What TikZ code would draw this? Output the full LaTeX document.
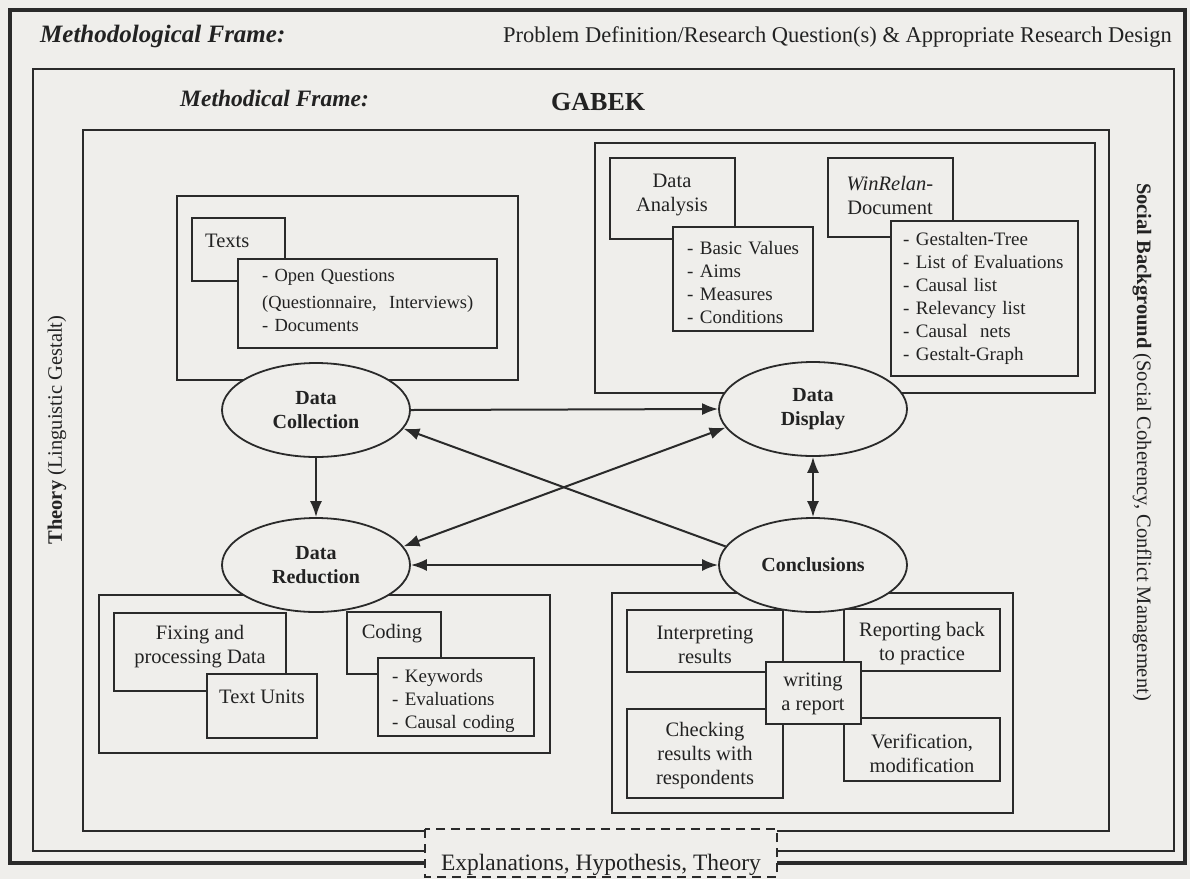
\documentclass[tikz,border=0pt]{standalone}
\usepackage{fontspec}
\setmainfont{Liberation Serif}
\usetikzlibrary{arrows.meta,shapes.geometric}

\definecolor{paper}{RGB}{239,238,235}
\definecolor{ink}{RGB}{42,42,42}
\definecolor{textc}{RGB}{34,34,34}

\newcommand{\listfont}{\fontsize{19}{23}\selectfont}
\newcommand{\titlefont}{\fontsize{20.5}{24}\selectfont}
\newcommand{\stagefont}{\fontsize{20}{24.5}\selectfont\bfseries}
\newcommand{\headfont}{\fontsize{22.5}{27}\selectfont}

\begin{document}
\begin{tikzpicture}[x=1pt,y=-1pt,line join=miter,
  frameline/.style={draw=ink},
  panel/.style={draw=ink, line width=1.7pt, fill=paper},
  stage/.style={ellipse, draw=ink, line width=1.8pt, fill=paper,
    minimum width=188pt, minimum height=94pt, inner sep=0pt,
    align=center, font=\stagefont, text=textc},
  boxtext/.style={align=center, inner sep=0pt, font=\titlefont, text=textc},
  itemlist/.style={align=left, inner sep=0pt, font=\listfont, text=textc,
    anchor=west, text width=300pt},
  arr/.style={draw=ink, line width=2pt, -{Latex[length=16pt,width=12pt]}},
  darr/.style={draw=ink, line width=2pt,
    {Latex[length=16pt,width=12pt]}-{Latex[length=16pt,width=12pt]}},
]
\useasboundingbox (0,0) rectangle (1190,879);
\fill[paper] (0,0) rectangle (1190,879);

% nested frames
\draw[frameline, line width=3.2pt] (10,10) rectangle (1185,863);
\draw[frameline, line width=2.6pt] (33,69) rectangle (1174,851);
\draw[frameline, line width=2.2pt] (83,130) rectangle (1109,831);

% frame titles
\node[anchor=base west, inner sep=0pt, text=textc,
  font=\fontsize{25}{30}\selectfont\bfseries\itshape] (methodological) at (40,42) {Methodological Frame:};
\node[anchor=base east, inner sep=0pt, text=textc, font=\headfont] (problem) at (1172,42)
  {Problem Definition/Research Question(s) \& Appropriate Research Design};
\node[anchor=base west, inner sep=0pt, text=textc,
  font=\fontsize{23.5}{28}\selectfont\bfseries\itshape] (methodical) at (180,106) {Methodical Frame:};
\node[anchor=base west, inner sep=0pt, text=textc,
  font=\fontsize{26}{30}\selectfont\bfseries] (gabek) at (551,110) {GABEK};

% side labels
\node[rotate=90, inner sep=0pt, text=textc, font=\fontsize{20.5}{24}\selectfont] (theory) at (57,430)
  {\textbf{Theory} (Linguistic Gestalt)};
\node[rotate=-90, inner sep=0pt, text=textc, font=\fontsize{20.5}{24}\selectfont] (social) at (1142,442)
  {\textbf{Social Background} (Social Coherency, Conflict Management)};

% dashed box sitting on the frame bottoms
\draw[draw=ink, line width=2pt, fill=paper, dash pattern=on 9pt off 6pt] (425,829) rectangle (777,877);
\node[inner sep=0pt, text=textc, font=\fontsize{23.5}{27}\selectfont, anchor=base] (explanations) at (601,870)
  {Explanations, Hypothesis, Theory};

% --- data collection group
\path[panel] (177,196) rectangle (518,380);
\path[panel] (192,218) rectangle (285,281);
\node[boxtext, anchor=west] (texts) at (205,241) {Texts};
\path[panel] (238,259) rectangle (497,348);
\node[itemlist, font=\fontsize{18.5}{23}\selectfont] (sources) at (262,300)
  {- Open Questions\\[4pt](Questionnaire,\ \ Interviews)\\- Documents};

% --- data display group
\path[panel] (595,143) rectangle (1095,393);
\path[panel] (610,158) rectangle (735,239);
\node[boxtext] (analysis) at (672,195) {Data\\Analysis};
\path[panel] (673,227) rectangle (813,331);
\node[itemlist] (aims) at (687,282) {- Basic Values\\- Aims\\- Measures\\- Conditions};
\path[panel] (828,158) rectangle (953,237);
\node[boxtext] (winrelan) at (890,195) {\textit{WinRelan-}\\Document};
\path[panel] (891,221) rectangle (1078,376);
\node[itemlist] (outputs) at (903,298)
  {- Gestalten-Tree\\- List of Evaluations\\- Causal list\\- Relevancy list\\- Causal\ \ nets\\- Gestalt-Graph};

% --- data reduction group
\path[panel] (99,595) rectangle (550,753);
\path[panel] (114,613) rectangle (286,691);
\node[boxtext] (fixing) at (200,647) {Fixing and\\processing Data};
\path[panel] (207,674) rectangle (317,738);
\node[boxtext] (units) at (262,697) {Text Units};
\path[panel] (347,612) rectangle (441,674);
\node[boxtext] (coding) at (392,634) {Coding};
\path[panel] (378,658) rectangle (534,736);
\node[itemlist] (codes) at (392,701) {- Keywords\\- Evaluations\\- Causal coding};

% --- conclusions group
\path[panel] (612,593) rectangle (1013,813);
\path[panel] (627,610) rectangle (783,672);
\node[boxtext] (interpret) at (705,645) {Interpreting\\results};
\path[panel] (627,709) rectangle (783,798);
\node[boxtext] (checking) at (705,756) {Checking\\results with\\respondents};
\path[panel] (844,609) rectangle (1000,671);
\node[boxtext] (reporting) at (922,644) {Reporting back\\to practice};
\path[panel] (844,718) rectangle (1000,781);
\node[boxtext] (verify) at (922,753) {Verification,\\modification};
\path[panel] (766,662) rectangle (861,724);
\node[boxtext] (writing) at (813,694) {writing\\a report};

% the four stages
\node[stage] (DC) at (316,410) {Data\\Collection};
\node[stage] (DD) at (813,409) {Data\\Display};
\node[stage] (DR) at (316,565) {Data\\Reduction};
\node[stage] (CO) at (813,565) {Conclusions};

% connectors
\draw[arr] (DC.east) -- (DD.west);
\draw[arr] (DC.south) -- (DR.north);
\draw[darr] (DR.12) -- (DD.192);
\draw[arr] (CO.168) -- (DC.-12);
\draw[darr] (DR.east) -- (CO.west);
\draw[darr] (DD.south) -- (CO.north);
\end{tikzpicture}
\end{document}
